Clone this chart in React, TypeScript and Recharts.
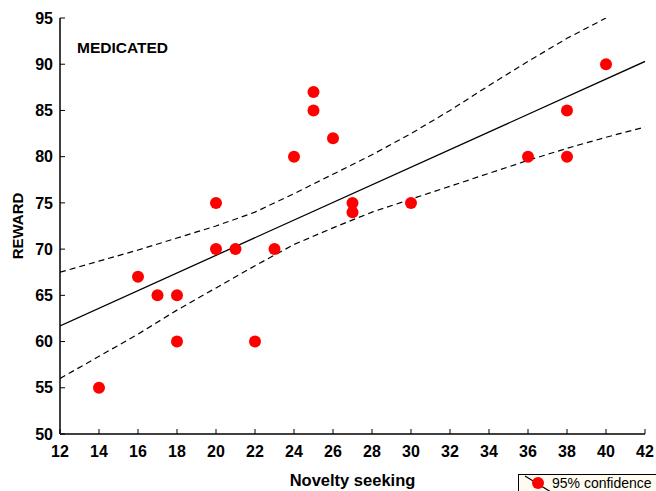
import { ComposedChart, Line, Scatter, XAxis, YAxis } from 'recharts';

// observed points: novelty seeking vs reward score
const noveltyScores = [14, 16, 17, 18, 18, 20, 20, 21, 22, 23, 24, 25, 25, 26, 27, 27, 30, 36, 38, 38, 40];
const rewardScores = [55, 67, 65, 65, 60, 75, 70, 70, 60, 70, 80, 87, 85, 82, 75, 74, 75, 80, 85, 80, 90];

// fitted line and 95% band
const fitX = [12, 42];
const fitY = [61.7, 90.3];
const bandX = [12, 14, 16, 18, 20, 22, 24, 26, 28, 30, 32, 34, 36, 38, 40, 42];
const upperBand = [67.5, 68.7, 69.9, 71.2, 72.5, 74.0, 76.0, 78.1, 80.2, 82.5, 85.0, 87.7, 90.3, 92.8, 95.0, null];
const lowerBand = [56.0, 58.4, 60.8, 63.4, 65.8, 68.2, 70.5, 72.3, 74.0, 75.4, 76.8, 78.2, 79.6, 80.9, 82.1, 83.2];

const xTicks = [12, 14, 16, 18, 20, 22, 24, 26, 28, 30, 32, 34, 36, 38, 40, 42];
const yTicks = [50, 55, 60, 65, 70, 75, 80, 85, 90, 95];

const points = noveltyScores.map((x, i) => ({ x, y: rewardScores[i] }));
const fit = fitX.map((x, i) => ({ x, y: fitY[i] }));
const upper = bandX.map((x, i) => ({ x, y: upperBand[i] })).filter((d) => d.y !== null);
const lower = bandX.map((x, i) => ({ x, y: lowerBand[i] }));

const FONT = '"Liberation Sans", Arial, sans-serif';
const tickStyle = { fill: '#000', fontSize: 16, fontWeight: 700, fontFamily: FONT };

export default function App() {
  return (
    <div style={{ position: 'relative', width: 656, height: 491, background: '#fff', overflow: 'hidden' }}>
      <style>{'body{margin:0}'}</style>
      <ComposedChart width={656} height={491} margin={{ top: 18, right: 11, left: 0, bottom: 0 }}>
        <XAxis
          xAxisId='bottom'
          dataKey='x'
          type='number'
          domain={[12, 42]}
          ticks={xTicks}
          allowDataOverflow
          height={57}
          tickSize={-5}
          tickMargin={17}
          axisLine={{ stroke: '#000', strokeWidth: 1.5 }}
          tickLine={{ stroke: '#000' }}
          tick={tickStyle}
          interval={0}
        />
        <XAxis
          xAxisId='top'
          orientation='top'
          dataKey='x'
          type='number'
          domain={[12, 42]}
          ticks={xTicks}
          height={0}
          tickSize={-5}
          axisLine={{ stroke: '#000' }}
          tickLine={{ stroke: '#000' }}
          tick={() => <g />}
          interval={0}
        />
        <YAxis
          yAxisId='left'
          type='number'
          domain={[50, 95]}
          ticks={yTicks}
          allowDataOverflow
          width={60}
          tickSize={-5}
          tickMargin={12}
          axisLine={{ stroke: '#000', strokeWidth: 1.5 }}
          tickLine={{ stroke: '#000' }}
          tick={tickStyle}
          interval={0}
        />
        <YAxis
          yAxisId='right'
          orientation='right'
          type='number'
          domain={[50, 95]}
          ticks={yTicks}
          width={0}
          tickSize={-5}
          axisLine={{ stroke: '#000' }}
          tickLine={{ stroke: '#000' }}
          tick={() => <g />}
          interval={0}
        />
        <Line
          xAxisId='bottom'
          yAxisId='left'
          data={upper}
          dataKey='y'
          stroke='#000'
          strokeWidth={1.2}
          strokeDasharray='6 4'
          dot={false}
          isAnimationActive={false}
        />
        <Line
          xAxisId='bottom'
          yAxisId='left'
          data={lower}
          dataKey='y'
          stroke='#000'
          strokeWidth={1.2}
          strokeDasharray='6 4'
          dot={false}
          isAnimationActive={false}
        />
        <Line
          xAxisId='bottom'
          yAxisId='left'
          data={fit}
          dataKey='y'
          stroke='#000'
          strokeWidth={1.3}
          dot={false}
          isAnimationActive={false}
        />
        <Scatter
          xAxisId='bottom'
          yAxisId='left'
          data={points}
          dataKey='y'
          fill='#ff0000'
          isAnimationActive={false}
          shape={(p: any) => <circle cx={p.cx} cy={p.cy} r={6} fill='#ff0000' />}
        />
      </ComposedChart>

      <div
        style={{
          position: 'absolute',
          left: 77,
          top: 38,
          fontFamily: FONT,
          fontWeight: 700,
          fontSize: 15.5,
          lineHeight: '20px',
        }}
      >
        MEDICATED
      </div>
      <div
        style={{
          position: 'absolute',
          left: 0,
          top: 226,
          width: 34,
          transform: 'translate(0,-50%)',
          display: 'flex',
          justifyContent: 'center',
        }}
      >
        <div
          style={{
            transform: 'rotate(-90deg)',
            fontFamily: FONT,
            fontWeight: 700,
            fontSize: 15,
            whiteSpace: 'nowrap',
          }}
        >
          REWARD
        </div>
      </div>
      <div
        style={{
          position: 'absolute',
          left: 60,
          width: 585,
          top: 469,
          textAlign: 'center',
          fontFamily: FONT,
          fontWeight: 700,
          fontSize: 16.5,
          lineHeight: '22px',
        }}
      >
        Novelty seeking
      </div>

      <div
        style={{
          position: 'absolute',
          left: 518,
          top: 474,
          width: 160,
          height: 30,
          border: '1px solid #000',
          background: '#fffbf0',
          fontFamily: FONT,
          fontSize: 14,
        }}
      >
        <svg width={32} height={18} style={{ position: 'absolute', left: 4, top: 0 }}>
          <line x1={2} y1={1} x2={28} y2={17} stroke='#000' strokeWidth={1.2} />
          <circle cx={15} cy={8} r={6} fill='#ff0000' />
        </svg>
        <span style={{ position: 'absolute', left: 33, top: 0, lineHeight: '17px', whiteSpace: 'nowrap' }}>
          95% confidence
        </span>
      </div>
    </div>
  );
}
